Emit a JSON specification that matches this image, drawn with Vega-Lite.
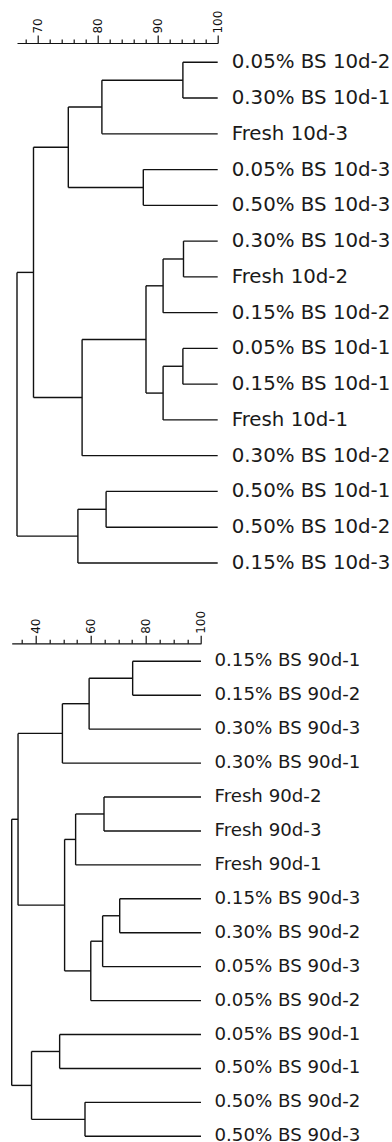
{
  "$schema": "https://vega.github.io/schema/vega-lite/v6.json",
  "background": "white",
  "padding": {"left": 10.7, "top": 10, "right": 0, "bottom": 0},
  "autosize": {"type": "pad"},
  "spacing": 60.3,
  "bounds": "flush",
  "config": {
    "view": {"stroke": null},
    "axis": {"grid": false, "domainColor": "#111", "tickColor": "#111", "labelColor": "#111", "labelFont": "DejaVu Sans", "labelFontSize": 12, "labelPadding": 2, "domainWidth": 1.2, "tickWidth": 1.2, "labelAngle": -90, "labelOverlap": false, "labelFlush": false, "labelBound": false, "tickCount": 100, "format": "d"},
    "rule": {"color": "#111", "strokeWidth": 1.4},
    "text": {"font": "DejaVu Sans", "color": "#1a1a1a"}
  },
  "datasets": {
    "leaves10d": [
      {"label": "0.05% BS 10d-2", "order": 1, "joinAt": 94.2},
      {"label": "0.30% BS 10d-1", "order": 2, "joinAt": 94.2},
      {"label": "Fresh 10d-3", "order": 3, "joinAt": 80.7},
      {"label": "0.05% BS 10d-3", "order": 4, "joinAt": 87.6},
      {"label": "0.50% BS 10d-3", "order": 5, "joinAt": 87.6},
      {"label": "0.30% BS 10d-3", "order": 6, "joinAt": 94.3},
      {"label": "Fresh 10d-2", "order": 7, "joinAt": 94.3},
      {"label": "0.15% BS 10d-2", "order": 8, "joinAt": 90.9},
      {"label": "0.05% BS 10d-1", "order": 9, "joinAt": 94.2},
      {"label": "0.15% BS 10d-1", "order": 10, "joinAt": 94.2},
      {"label": "Fresh 10d-1", "order": 11, "joinAt": 90.9},
      {"label": "0.30% BS 10d-2", "order": 12, "joinAt": 77.4},
      {"label": "0.50% BS 10d-1", "order": 13, "joinAt": 81.4},
      {"label": "0.50% BS 10d-2", "order": 14, "joinAt": 81.4},
      {"label": "0.15% BS 10d-3", "order": 15, "joinAt": 76.7}
    ],
    "nodes10d": [
      {"sim": 94.2, "y": 1.5, "parentSim": 80.7, "c1": 1, "c2": 2},
      {"sim": 80.7, "y": 2.25, "parentSim": 75.1, "c1": 1.5, "c2": 3},
      {"sim": 87.6, "y": 4.5, "parentSim": 75.1, "c1": 4, "c2": 5},
      {"sim": 75.1, "y": 3.375, "parentSim": 69.3, "c1": 2.25, "c2": 4.5},
      {"sim": 94.3, "y": 6.5, "parentSim": 90.9, "c1": 6, "c2": 7},
      {"sim": 90.9, "y": 7.25, "parentSim": 88.05, "c1": 6.5, "c2": 8},
      {"sim": 94.2, "y": 9.5, "parentSim": 90.9, "c1": 9, "c2": 10},
      {"sim": 90.9, "y": 10.25, "parentSim": 88.05, "c1": 9.5, "c2": 11},
      {"sim": 88.05, "y": 8.75, "parentSim": 77.4, "c1": 7.25, "c2": 10.25},
      {"sim": 77.4, "y": 10.375, "parentSim": 69.3, "c1": 8.75, "c2": 12},
      {"sim": 69.3, "y": 6.875, "parentSim": 66.55, "c1": 3.375, "c2": 10.375},
      {"sim": 81.4, "y": 13.5, "parentSim": 76.7, "c1": 13, "c2": 14},
      {"sim": 76.7, "y": 14.25, "parentSim": 66.55, "c1": 13.5, "c2": 15},
      {"sim": 66.55, "y": 10.5625, "parentSim": 66.55, "c1": 6.875, "c2": 14.25}
    ],
    "leaves90d": [
      {"label": "0.15% BS 90d-1", "order": 1, "joinAt": 75.2},
      {"label": "0.15% BS 90d-2", "order": 2, "joinAt": 75.2},
      {"label": "0.30% BS 90d-3", "order": 3, "joinAt": 59.4},
      {"label": "0.30% BS 90d-1", "order": 4, "joinAt": 49.7},
      {"label": "Fresh 90d-2", "order": 5, "joinAt": 64.8},
      {"label": "Fresh 90d-3", "order": 6, "joinAt": 64.8},
      {"label": "Fresh 90d-1", "order": 7, "joinAt": 54.5},
      {"label": "0.15% BS 90d-3", "order": 8, "joinAt": 70.5},
      {"label": "0.30% BS 90d-2", "order": 9, "joinAt": 70.5},
      {"label": "0.05% BS 90d-3", "order": 10, "joinAt": 64.3},
      {"label": "0.05% BS 90d-2", "order": 11, "joinAt": 60.0},
      {"label": "0.05% BS 90d-1", "order": 12, "joinAt": 48.7},
      {"label": "0.50% BS 90d-1", "order": 13, "joinAt": 48.7},
      {"label": "0.50% BS 90d-2", "order": 14, "joinAt": 57.9},
      {"label": "0.50% BS 90d-3", "order": 15, "joinAt": 57.9}
    ],
    "nodes90d": [
      {"sim": 75.2, "y": 1.5, "parentSim": 59.4, "c1": 1, "c2": 2},
      {"sim": 59.4, "y": 2.25, "parentSim": 49.7, "c1": 1.5, "c2": 3},
      {"sim": 49.7, "y": 3.125, "parentSim": 33.6, "c1": 2.25, "c2": 4},
      {"sim": 64.8, "y": 5.5, "parentSim": 54.5, "c1": 5, "c2": 6},
      {"sim": 54.5, "y": 6.25, "parentSim": 50.5, "c1": 5.5, "c2": 7},
      {"sim": 70.5, "y": 8.5, "parentSim": 64.3, "c1": 8, "c2": 9},
      {"sim": 64.3, "y": 9.25, "parentSim": 60.0, "c1": 8.5, "c2": 10},
      {"sim": 60.0, "y": 10.125, "parentSim": 50.5, "c1": 9.25, "c2": 11},
      {"sim": 50.5, "y": 8.1875, "parentSim": 33.6, "c1": 6.25, "c2": 10.125},
      {"sim": 33.6, "y": 5.65625, "parentSim": 31.3, "c1": 3.125, "c2": 8.1875},
      {"sim": 48.7, "y": 12.5, "parentSim": 38.5, "c1": 12, "c2": 13},
      {"sim": 57.9, "y": 14.5, "parentSim": 38.5, "c1": 14, "c2": 15},
      {"sim": 38.5, "y": 13.5, "parentSim": 31.3, "c1": 12.5, "c2": 14.5},
      {"sim": 31.3, "y": 9.578, "parentSim": 31.3, "c1": 5.65625, "c2": 13.5}
    ]
  },
  "vconcat": [
    {
      "width": 206,
      "height": 540,
      "layer": [
        {
          "data": {"name": "leaves10d"},
          "mark": {"type": "rule"},
          "encoding": {
            "x": {"field": "joinAt", "type": "quantitative",
              "scale": {"domain": [66.55, 100], "range": [5.3, 206], "nice": false, "zero": false},
              "axis": {"orient": "top", "title": null, "format": "d",
                "values": [68, 70, 72, 74, 76, 78, 80, 82, 84, 86, 88, 90, 92, 94, 96, 98, 100],
                "labelExpr": "datum.value % 10 === 0 ? datum.label : ''",
                "tickSize": {"condition": {"test": "datum.value % 10 === 0", "value": 8}, "value": 4}}},
            "x2": {"datum": 100},
            "y": {"field": "order", "type": "quantitative", "scale": {"domain": [0.4603, 15.561], "reverse": true, "nice": false, "zero": false}, "axis": null}
          }
        },
        {
          "data": {"name": "leaves10d"},
          "mark": {"type": "text", "align": "left", "baseline": "middle", "dx": 14, "fontSize": 19.8},
          "encoding": {
            "x": {"datum": 100, "type": "quantitative"},
            "y": {"field": "order", "type": "quantitative"},
            "text": {"field": "label"}
          }
        },
        {
          "data": {"name": "nodes10d"},
          "mark": {"type": "rule"},
          "encoding": {
            "x": {"field": "parentSim", "type": "quantitative"},
            "x2": {"field": "sim"},
            "y": {"field": "y", "type": "quantitative"}
          }
        },
        {
          "data": {"name": "nodes10d"},
          "mark": {"type": "rule"},
          "encoding": {
            "x": {"field": "sim", "type": "quantitative"},
            "y": {"field": "c1", "type": "quantitative"},
            "y2": {"field": "c2"}
          }
        }
      ]
    },
    {
      "width": 206,
      "height": 497.7,
      "layer": [
        {
          "data": {"name": "leaves90d"},
          "mark": {"type": "rule"},
          "encoding": {
            "x": {"field": "joinAt", "type": "quantitative",
              "scale": {"domain": [31.3, 100], "range": [0, 189.3], "nice": false, "zero": false},
              "axis": {"orient": "top", "title": null, "format": "d",
                "values": [35, 40, 45, 50, 55, 60, 65, 70, 75, 80, 85, 90, 95, 100],
                "labelExpr": "datum.value % 20 === 0 ? datum.label : ''",
                "tickSize": {"condition": {"test": "datum.value % 20 === 0", "value": 8}, "value": 4}}},
            "x2": {"datum": 100},
            "y": {"field": "order", "type": "quantitative", "scale": {"domain": [0.4695, 15.138], "reverse": true, "nice": false, "zero": false}, "axis": null}
          }
        },
        {
          "data": {"name": "leaves90d"},
          "mark": {"type": "text", "align": "left", "baseline": "middle", "dx": 13.5, "fontSize": 18.2},
          "encoding": {
            "x": {"datum": 100, "type": "quantitative"},
            "y": {"field": "order", "type": "quantitative"},
            "text": {"field": "label"}
          }
        },
        {
          "data": {"name": "nodes90d"},
          "mark": {"type": "rule"},
          "encoding": {
            "x": {"field": "parentSim", "type": "quantitative"},
            "x2": {"field": "sim"},
            "y": {"field": "y", "type": "quantitative"}
          }
        },
        {
          "data": {"name": "nodes90d"},
          "mark": {"type": "rule"},
          "encoding": {
            "x": {"field": "sim", "type": "quantitative"},
            "y": {"field": "c1", "type": "quantitative"},
            "y2": {"field": "c2"}
          }
        }
      ]
    }
  ]
}
